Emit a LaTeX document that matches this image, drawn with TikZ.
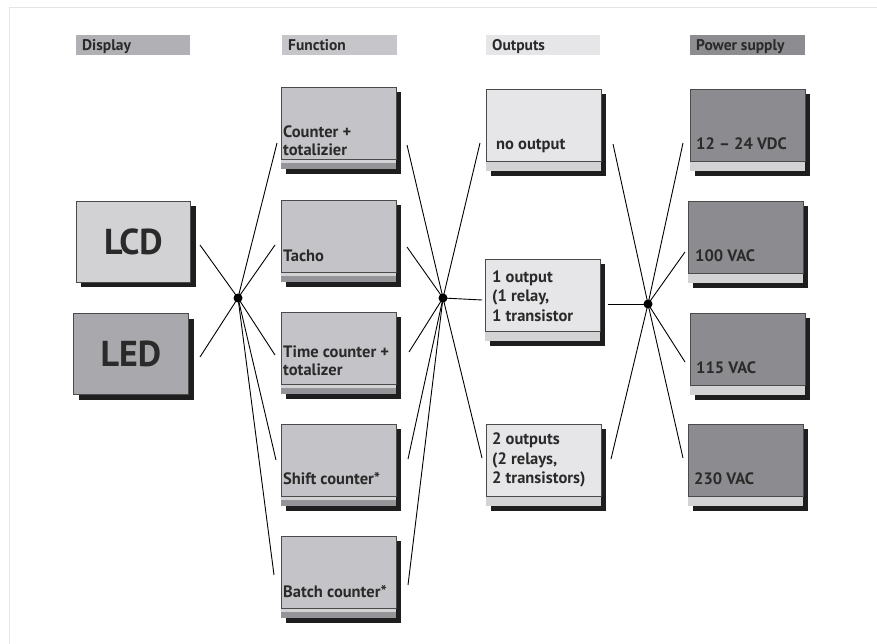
\documentclass[tikz,border=0pt]{standalone}
\usepackage{fontspec}
\setmainfont{PT Sans}
\definecolor{framec}{HTML}{E4E4E4}
\definecolor{hdisp}{HTML}{B1B1B5}
\definecolor{hfunc}{HTML}{C6C6CA}
\definecolor{hout}{HTML}{E6E6E8}
\definecolor{hpow}{HTML}{8D8D91}
\definecolor{lcdc}{HTML}{D2D2D4}
\definecolor{ledc}{HTML}{A9A9AD}
\definecolor{funcc}{HTML}{C4C4C8}
\definecolor{outc}{HTML}{E6E6E8}
\definecolor{powc}{HTML}{8C8C90}
\definecolor{stripl}{HTML}{D3D3D5}
\definecolor{stripm}{HTML}{959599}
\definecolor{shadc}{HTML}{1E1E1E}
\definecolor{boxline}{HTML}{4A4A4A}
\definecolor{txt}{HTML}{2A2A2A}
\begin{document}
\begin{tikzpicture}[x=1pt,y=-1pt,
  bx/.style={draw=boxline, line width=0.8pt, inner sep=0pt, minimum width=115pt, minimum height=72pt, anchor=north west},
  lbl/.style={font=\fontsize{16.5}{18}\selectfont\bfseries, text=txt, align=left, anchor=west, inner sep=0pt},
  lblo/.style={lbl, font=\fontsize{16.5}{19.5}\selectfont\bfseries},
  hdr/.style={font=\fontsize{15.5}{17}\selectfont\bfseries, text=txt, anchor=base west, inner sep=0pt},
  big/.style={draw=boxline, line width=0.8pt, inner sep=0pt, font=\fontsize{36}{38}\selectfont\bfseries, text=txt, anchor=north west},
  spoke/.style={line width=0.9pt, draw=black},
  hub/.style={circle, fill=black, inner sep=0pt, minimum size=9pt}]
\useasboundingbox (0,0) rectangle (877,644);
\fill[white] (0,0) rectangle (877,644);
\draw[framec, line width=1pt] (9,650) -- (9,8) -- (880,8);

% headers
\fill[hdisp] (76,35) rectangle (190,55);
\node[hdr] (hD) at (82,50.5) {Display};
\fill[hfunc] (282,35) rectangle (397,55);
\node[hdr] (hF) at (288,50.5) {Function};
\fill[hout] (486,35) rectangle (600,55);
\node[hdr] (hO) at (492,50.5) {Outputs};
\fill[hpow] (690,35) rectangle (805,55);
\node[hdr] (hP) at (696,50.5) {Power supply};

% display boxes
\fill[shadc] (81,206) rectangle (196,287);
\node[big, fill=lcdc, minimum width=114pt, minimum height=81pt] (lcd) at (76,201) {LCD};
\fill[shadc] (79,319) rectangle (194,400);
\node[big, fill=ledc, minimum width=115pt, minimum height=81pt] (led) at (73,313) {LED};

% function boxes
\foreach \y/\n in {87/f1,200/f2,312/f3,424/f4,536/f5}{
  \fill[shadc] (286,\y+5) rectangle (401,\y+87);
  \fill[stripl] (281,\y+72) rectangle (396,\y+76);
  \fill[stripm] (281,\y+76) rectangle (396,\y+82);
  \node[bx, fill=funcc] (\n) at (281,\y) {};
}
\node[lbl] (t1) at (283,141) {Counter +\\totalizier};
\node[lbl] (t2) at (283,256) {Tacho};
\node[lbl] (t3) at (283,361) {Time counter +\\totalizer};
\node[lbl] (t4) at (283,479) {Shift counter*};
\node[lbl] (t5) at (283,592) {Batch counter*};

% output boxes
\foreach \x/\y/\n in {486/89/o1,485/259/o2,486/424/o3}{
  \fill[shadc] (\x+5,\y+5) rectangle (\x+120,\y+87);
  \fill[stripl] (\x,\y+72) rectangle (\x+115,\y+82);
  \node[bx, fill=outc] (\n) at (\x,\y) {};
}
\node[lbl] (u1) at (496,146) {no output};
\node[lblo] (u2) at (492,296) {1 output\\(1 relay,\\1 transistor};
\node[lblo] (u3) at (492,460) {2 outputs\\(2 relays,\\2 transistors)};

% power boxes
\foreach \x/\y/\n in {690/89/p1,688/201/p2,690/313/p3,688/424/p4}{
  \fill[shadc] (\x+5,\y+5) rectangle (\x+120,\y+87);
  \fill[stripl] (\x,\y+72) rectangle (\x+115,\y+82);
  \node[bx, fill=powc] (\n) at (\x,\y) {};
}
\node[lbl] (v1) at (696,144) {12 -- 24 VDC};
\node[lbl] (v2) at (695,256) {100 VAC};
\node[lbl] (v3) at (696,368) {115 VAC};
\node[lbl] (v4) at (694,479) {230 VAC};

% hubs and spoke ends
\coordinate (h1) at (238,298);
\coordinate (h2) at (443,298);
\coordinate (h3) at (648,304);
\coordinate (a1) at (200,245);
\coordinate (a2) at (200,357);
\coordinate (a3) at (277,143);
\coordinate (a4) at (275,245);
\coordinate (a5) at (275,355);
\coordinate (a6) at (276,460);
\coordinate (a7) at (274,575);
\coordinate (b1) at (407,145);
\coordinate (b2) at (407,247);
\coordinate (b3) at (409,352);
\coordinate (b4) at (408,459);
\coordinate (b5) at (408,585);
\coordinate (b6) at (480,143);
\coordinate (b7) at (482,300);
\coordinate (b8) at (482,458);
\coordinate (c1) at (613,144);
\coordinate (c2) at (608,304);
\coordinate (c3) at (611,459);
\coordinate (c4) at (683,143);
\coordinate (c5) at (685,252);
\coordinate (c6) at (685,362);
\coordinate (c7) at (683,458);
\draw[spoke] (h1) -- (a1);
\draw[spoke] (h1) -- (a2);
\draw[spoke] (h1) -- (a3);
\draw[spoke] (h1) -- (a4);
\draw[spoke] (h1) -- (a5);
\draw[spoke] (h1) -- (a6);
\draw[spoke] (h1) -- (a7);
\draw[spoke] (h2) -- (b1);
\draw[spoke] (h2) -- (b2);
\draw[spoke] (h2) -- (b3);
\draw[spoke] (h2) -- (b4);
\draw[spoke] (h2) -- (b5);
\draw[spoke] (h2) -- (b6);
\draw[spoke] (h2) -- (b7);
\draw[spoke] (h2) -- (b8);
\draw[spoke] (h3) -- (c1);
\draw[spoke] (h3) -- (c2);
\draw[spoke] (h3) -- (c3);
\draw[spoke] (h3) -- (c4);
\draw[spoke] (h3) -- (c5);
\draw[spoke] (h3) -- (c6);
\draw[spoke] (h3) -- (c7);
\node[hub] (H1) at (h1) {};
\node[hub] (H2) at (h2) {};
\node[hub] (H3) at (h3) {};
\end{tikzpicture}
\end{document}
